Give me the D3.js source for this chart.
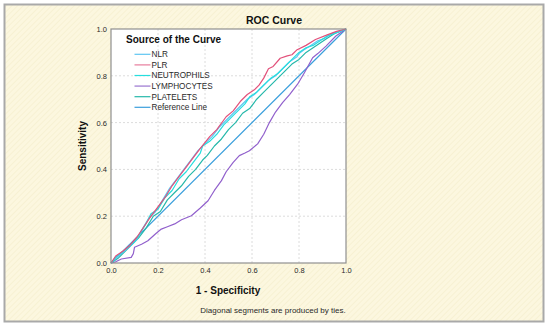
<!DOCTYPE html>
<html>
<head>
<meta charset="utf-8">
<script src="https://cdn.jsdelivr.net/npm/d3@7"></script>
<style>
  body { margin: 0; background: #fff; }
  text { font-family: Arial, "Liberation Sans", sans-serif; }
</style>
</head>
<body>
<div id="chart"></div>
<script>
// series: [1 - specificity, sensitivity]
const NLR = [[0,0],[0.02,0.02],[0.05,0.045],[0.08,0.07],[0.11,0.1],[0.13,0.14],[0.16,0.19],[0.19,0.22],[0.22,0.27],[0.25,0.32],[0.28,0.36],[0.31,0.4],[0.34,0.44],[0.37,0.48],[0.4,0.51],[0.43,0.54],[0.46,0.58],[0.49,0.61],[0.52,0.64],[0.55,0.67],[0.58,0.7],[0.61,0.72],[0.64,0.75],[0.67,0.78],[0.7,0.8],[0.73,0.83],[0.76,0.86],[0.79,0.88],[0.8,0.895],[0.82,0.91],[0.85,0.93],[0.88,0.95],[0.91,0.96],[0.94,0.98],[0.97,0.99],[1,1]];
const PLR = [[0,0],[0.02,0.03],[0.05,0.05],[0.08,0.075],[0.11,0.11],[0.13,0.14],[0.15,0.17],[0.17,0.2],[0.2,0.24],[0.23,0.28],[0.26,0.33],[0.29,0.37],[0.32,0.41],[0.35,0.45],[0.38,0.49],[0.42,0.54],[0.45,0.57],[0.49,0.625],[0.52,0.65],[0.55,0.69],[0.58,0.72],[0.61,0.74],[0.63,0.76],[0.65,0.79],[0.67,0.83],[0.69,0.84],[0.72,0.875],[0.75,0.885],[0.77,0.89],[0.79,0.91],[0.83,0.93],[0.87,0.955],[0.92,0.975],[0.96,0.99],[1,1]];
const NEUTROPHILS = [[0,0],[0.02,0.025],[0.04,0.04],[0.07,0.065],[0.1,0.09],[0.12,0.12],[0.15,0.17],[0.17,0.21],[0.2,0.23],[0.23,0.28],[0.26,0.31],[0.29,0.36],[0.32,0.39],[0.35,0.43],[0.38,0.47],[0.39,0.5],[0.42,0.52],[0.45,0.55],[0.48,0.59],[0.51,0.62],[0.54,0.65],[0.57,0.68],[0.59,0.71],[0.62,0.73],[0.65,0.76],[0.68,0.79],[0.71,0.81],[0.74,0.84],[0.77,0.87],[0.8,0.9],[0.83,0.92],[0.86,0.93],[0.89,0.95],[0.92,0.97],[0.95,0.98],[1,1]];
const LYMPHOCYTES = [[0,0],[0.02,0.005],[0.044,0.017],[0.086,0.024],[0.095,0.04],[0.1,0.067],[0.13,0.08],[0.157,0.095],[0.19,0.125],[0.214,0.145],[0.24,0.155],[0.271,0.167],[0.3,0.185],[0.342,0.202],[0.38,0.235],[0.413,0.266],[0.44,0.31],[0.47,0.352],[0.49,0.39],[0.52,0.43],[0.546,0.459],[0.57,0.47],[0.589,0.48],[0.624,0.509],[0.65,0.55],[0.674,0.6],[0.7,0.645],[0.73,0.685],[0.76,0.72],[0.794,0.764],[0.823,0.813],[0.858,0.877],[0.88,0.895],[0.915,0.927],[0.957,0.97],[1,1]];
const PLATELETS = [[0,0],[0.03,0.02],[0.06,0.05],[0.09,0.08],[0.12,0.11],[0.15,0.15],[0.18,0.2],[0.21,0.22],[0.24,0.27],[0.27,0.3],[0.3,0.33],[0.33,0.37],[0.36,0.4],[0.39,0.44],[0.41,0.46],[0.44,0.5],[0.47,0.53],[0.5,0.57],[0.53,0.6],[0.56,0.64],[0.59,0.66],[0.62,0.7],[0.65,0.73],[0.68,0.76],[0.71,0.79],[0.74,0.82],[0.77,0.85],[0.8,0.87],[0.83,0.9],[0.86,0.92],[0.89,0.94],[0.92,0.96],[0.95,0.98],[1,1]];
const REFERENCE = [[0,0],[1,1]];

const seriesNames = ["NLR", "PLR", "NEUTROPHILS", "LYMPHOCYTES", "PLATELETS", "Reference Line"];
const seriesData = [NLR, PLR, NEUTROPHILS, LYMPHOCYTES, PLATELETS, REFERENCE];
const seriesColors = ["#5ec6f2", "#e2507a", "#26dede", "#9160cc", "#25b8aa", "#3a9fdc"];
const legendColors = ["#5ec6f2", "#e77c9c", "#26dede", "#b397dc", "#25b8aa", "#3a9fdc"];
const tickValues = [0, 0.2, 0.4, 0.6, 0.8, 1.0];

const W = 550, H = 327;
const plot = { left: 111, top: 29, width: 235, height: 234 };

const svg = d3.select("#chart").append("svg")
    .attr("width", W)
    .attr("height", H);

// hatched cream background
const defs = svg.append("defs");
const pat = defs.append("pattern")
    .attr("id", "hatch")
    .attr("patternUnits", "userSpaceOnUse")
    .attr("width", 4).attr("height", 4)
    .attr("patternTransform", "rotate(45)");
pat.append("rect").attr("width", 4).attr("height", 4).attr("fill", "#fcf7df");
pat.append("line").attr("x1", 0).attr("y1", 0).attr("x2", 0).attr("y2", 4)
    .attr("stroke", "#f6efd0").attr("stroke-width", 1.5);

svg.append("rect")
    .attr("x", 4.5).attr("y", 4.5)
    .attr("width", 539).attr("height", 317)
    .attr("fill", "url(#hatch)")
    .attr("stroke", "#a9a9a9")
    .attr("stroke-width", 2);

const x = d3.scaleLinear().domain([0, 1]).range([0, plot.width]);
const y = d3.scaleLinear().domain([0, 1]).range([plot.height, 0]);

const g = svg.append("g")
    .attr("transform", "translate(" + plot.left + "," + plot.top + ")");

g.append("rect")
    .attr("width", plot.width).attr("height", plot.height)
    .attr("fill", "#fff");

// grid
g.append("g").selectAll("line")
    .data(tickValues.slice(1, 5))
    .join("line")
    .attr("x1", d => x(d)).attr("x2", d => x(d))
    .attr("y1", 0).attr("y2", plot.height)
    .attr("stroke", "#dcdcdc").attr("stroke-dasharray", "2,2");
g.append("g").selectAll("line")
    .data(tickValues.slice(1, 5))
    .join("line")
    .attr("y1", d => y(d)).attr("y2", d => y(d))
    .attr("x1", 0).attr("x2", plot.width)
    .attr("stroke", "#dcdcdc").attr("stroke-dasharray", "2,2");

// axes (labels only)
const xAxis = g.append("g")
    .attr("transform", "translate(0," + plot.height + ")")
    .call(d3.axisBottom(x).tickValues(tickValues).tickFormat(d3.format(".1f")).tickSize(0).tickPadding(5));
const yAxis = g.append("g")
    .call(d3.axisLeft(y).tickValues(tickValues).tickFormat(d3.format(".1f")).tickSize(0).tickPadding(4));
[xAxis, yAxis].forEach(a => {
    a.select(".domain").remove();
    a.selectAll("text")
        .attr("font-size", 7.5)
        .attr("fill", "#2a2a2a")
        .attr("font-family", "Arial, 'Liberation Sans', sans-serif");
});

// curves
const line = d3.line()
    .x(d => x(d[0]))
    .y(d => y(d[1]));

const drawOrder = [5, 3, 4, 0, 2, 1];
drawOrder.forEach(i => {
    g.append("path")
        .datum(seriesData[i])
        .attr("fill", "none")
        .attr("stroke", seriesColors[i])
        .attr("stroke-width", 1.2)
        .attr("stroke-linejoin", "round")
        .attr("d", line);
});

// frame
g.append("rect")
    .attr("width", plot.width).attr("height", plot.height)
    .attr("fill", "none")
    .attr("stroke", "#8f8f8f")
    .attr("stroke-width", 1.2);

// legend
const legend = svg.append("g");
legend.append("text")
    .attr("x", 126).attr("y", 43)
    .attr("font-size", 10).attr("font-weight", "bold")
    .attr("fill", "#111")
    .text("Source of the Curve");

const rows = legend.selectAll("g.row")
    .data(seriesNames)
    .join("g")
    .attr("class", "row")
    .attr("transform", (d, i) => "translate(0," + (54.3 + i * 10.6) + ")");
rows.append("line")
    .attr("x1", 134.5).attr("x2", 150.5)
    .attr("stroke", (d, i) => legendColors[i])
    .attr("stroke-width", (d, i) => i === 3 ? 1.6 : 1.2);
rows.append("text")
    .attr("x", 151.5).attr("dy", "0.35em")
    .attr("font-size", 8.2)
    .attr("fill", "#2a2a2a")
    .text(d => d);

// titles
svg.append("text")
    .attr("x", 274).attr("y", 24)
    .attr("text-anchor", "middle")
    .attr("font-size", 10.5).attr("font-weight", "bold")
    .attr("fill", "#111")
    .text("ROC Curve");

svg.append("text")
    .attr("transform", "translate(86," + (plot.top + plot.height / 2) + ") rotate(-90)")
    .attr("text-anchor", "middle")
    .attr("font-size", 10).attr("font-weight", "bold")
    .attr("fill", "#111")
    .text("Sensitivity");

svg.append("text")
    .attr("x", 228).attr("y", 294)
    .attr("text-anchor", "middle")
    .attr("font-size", 10).attr("font-weight", "bold")
    .attr("fill", "#111")
    .text("1 - Specificity");

svg.append("text")
    .attr("x", 273).attr("y", 313)
    .attr("text-anchor", "middle")
    .attr("font-size", 8)
    .attr("fill", "#2a2a2a")
    .text("Diagonal segments are produced by ties.");
</script>
</body>
</html>
